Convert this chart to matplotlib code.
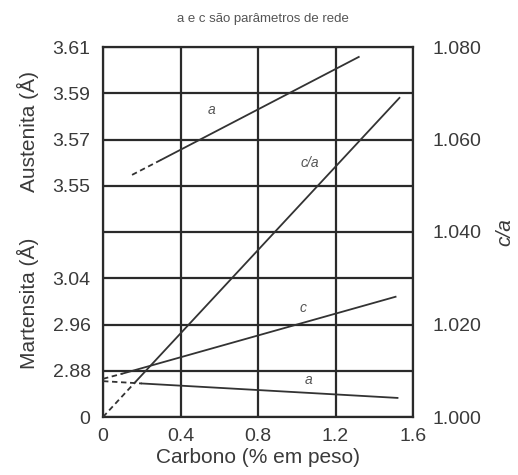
import matplotlib
matplotlib.use('Agg')
import matplotlib.pyplot as plt

plt.rcParams['font.family'] = ['Liberation Sans', 'DejaVu Sans']

# --- data ---
carbon_ticks = [0, 0.4, 0.8, 1.2, 1.6]
carbon_tick_labels = ['0', '0.4', '0.8', '1.2', '1.6']
left_tick_labels = ['0', '2.88', '2.96', '3.04', '', '3.55', '3.57', '3.59', '3.61']
ca_ticks = [1.000, 1.020, 1.040, 1.060, 1.080]
ca_tick_labels = ['1.000', '1.020', '1.040', '1.060', '1.080']

# Austenite a (Å): dashed start, solid rest
aus_a_x = [0.15, 0.30, 1.32]
aus_a_y = [3.5547, 3.5612, 3.6057]
# c/a ratio
ca_x = [0.0, 0.17, 1.53]
ca_y = [1.000, 1.0077, 1.069]
# Martensite c (Å)
mart_c_x = [0.0, 0.10, 1.51]
mart_c_y = [2.866, 2.875, 3.008]
# Martensite a (Å)
mart_a_x = [0.0, 0.20, 1.52]
mart_a_y = [2.862, 2.858, 2.833]

W, H = 518, 475
fig = plt.figure(figsize=(W / 100, H / 100), dpi=100)
ax = fig.add_axes([103 / W, 1 - 417 / H, (413 - 103) / W, (417 - 47) / H])

txt = '#3a3a3a'
grid_c = '#2a2a2a'
line_c = '#333333'
tick_fs = 14

ax.set_xlim(0, 1.6)
ax.set_ylim(0, 8)
ax.set_xticks(carbon_ticks)
ax.set_xticklabels(carbon_tick_labels)
ax.set_yticks(range(len(left_tick_labels)))
ax.set_yticklabels(left_tick_labels)
ax.tick_params(axis='both', length=0, labelsize=tick_fs, colors=txt)
ax.tick_params(axis='y', pad=9)
ax.tick_params(axis='x', pad=8)
ax.grid(True, color=grid_c, lw=1.6)
for s in ax.spines.values():
    s.set_linewidth(1.6)
    s.set_color(grid_c)
ax.set_axisbelow(True)

# c/a axis on the right
ax_ca = ax.twinx()
ax_ca.set_ylim(1.0, 1.08)
ax_ca.set_yticks(ca_ticks)
ax_ca.set_yticklabels(ca_tick_labels)
ax_ca.tick_params(axis='y', length=0, labelsize=tick_fs, colors=txt, pad=14)
for s in ax_ca.spines.values():
    s.set_visible(False)

# hidden scales for austenite and martensite
ax_aus = ax.twinx()
ax_aus.set_ylim(3.45, 3.61)
ax_aus.axis('off')
ax_mart = ax.twinx()
ax_mart.set_ylim(2.80, 3.44)
ax_mart.axis('off')


def draw(a, xs, ys):
    a.plot(xs[:2], ys[:2], color=line_c, lw=1.3, ls=(0, (3, 2)))
    a.plot(xs[1:], ys[1:], color=line_c, lw=1.3)


draw(ax_aus, aus_a_x, aus_a_y)
draw(ax_ca, ca_x, ca_y)
draw(ax_mart, mart_c_x, mart_c_y)
draw(ax_mart, mart_a_x, mart_a_y)

# curve labels
lab = dict(fontsize=10, style='italic', color='#555555', ha='center', va='center')
ax.text(0.56, 6.64, 'a', **lab)
ax.text(1.07, 5.49, 'c/a', **lab)
ax.text(1.03, 2.36, 'c', **lab)
ax.text(1.06, 0.80, 'a', **lab)

# axis labels
ax.set_xlabel('Carbono (% em peso)', fontsize=15, color=txt, labelpad=2)
fig.text(28 / W, 1 - 132 / H, 'Austenita (Å)', rotation=90, fontsize=15,
         color=txt, ha='center', va='center')
fig.text(28 / W, 1 - 303 / H, 'Martensita (Å)', rotation=90, fontsize=15,
         color=txt, ha='center', va='center')
fig.text(505 / W, 1 - 232 / H, 'c/a', rotation=90, fontsize=15, style='italic',
         color=txt, ha='center', va='center')
fig.text(263 / W, 1 - 19 / H, 'a e c são parâmetros de rede', fontsize=9.5,
         color='#555555', ha='center', va='center')

fig.savefig('out.png', dpi=100)
